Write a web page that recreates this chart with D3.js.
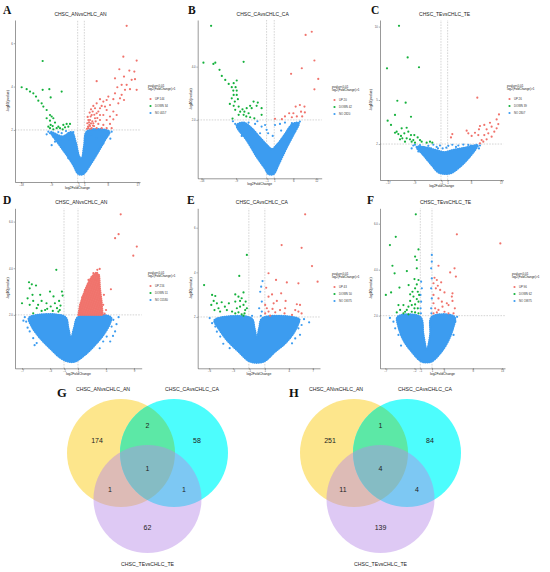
<!DOCTYPE html>
<html><head><meta charset="utf-8">
<script src="https://cdn.jsdelivr.net/npm/d3@7/dist/d3.min.js"></script>
<style>body{margin:0;background:#fff}svg{display:block}</style>
</head><body>
<script>
// ===================== DATA =====================
const legendTitle = ["pvalue<0.01", "log2(FoldChange)>1"];
const groupNames = ["UP", "DOWN", "NO"];
const panelTitles = ["CHSC_ANvsCHLC_AN","CHSC_CAvsCHLC_CA","CHSC_TEvsCHLC_TE","CHSC_ANvsCHLC_AN","CHSC_CAvsCHLC_CA","CHSC_TEvsCHLC_TE"];
const panelLetters = ["A","B","C","D","E","F"];
const countsA = [144, 34, 4057];
const countsB = [20, 42, 2820];
const countsC = [26, 39, 2807];
const countsD = [216, 51, 15580];
const countsE = [43, 50, 19375];
const countsF = [96, 62, 19875];
const xTicksA = [-18,-9,-1,1,8,17];
const xTicksB = [-18,-9,-1,1,6,12];
const xTicksC = [-17,-9,-1,1,8,17];
const xTicksD = [-7,-3,-1,1,5,9];
const xTicksE = [-6,-3,-1,1,4,7];
const xTicksF = [-7,-2,-1,1,3,8,13];
const yTicksA = [2,4,6];
const yTicksB = [2,4];
const yTicksC = [2,5,10];
const yTicksD = [2,4,6];
const yTicksE = [2,4,6];
const yTicksF = [2,4,6];

// A
const aUp = [[13.7,6.8],[12.7,5.38],[16.7,5.2],[11.5,4.8],[14.5,4.74],[16,4.69],[10.2,4.38],[4.7,4.25],[12.9,4.46],[16.2,4.34],[13.7,4.08],[14.7,3.88],[13.2,3.85],[16.7,3.85],[12.2,3.62],[11.7,3.46],[12.9,3.38],[9.7,3.42],[11.2,3.23],[8.7,3.15],[7.7,3.38],[5.7,3.42],[6.7,3.31],[4.7,3.23],[3.7,3.11],[5.7,3.0],[7.7,2.92],[9.7,2.85],[10.7,2.69],[8.7,2.62],[6.7,2.69],[4.7,2.77],[3.2,2.69],[4.2,2.54],[5.7,2.46],[7.7,2.46],[9.7,2.49],[2.7,2.46],[3.7,2.31],[5.2,2.28],[6.7,2.23],[8.7,2.28],[2.5,2.23],[3.2,2.08],[4.7,2.08],[6.2,2.08],[7.7,2.08],[9.2,2.08],[2.2,2.08],[2.7,2.18],[1.9,2.31],[3.9,2.18],[5.7,2.69],[7.2,3.08],[8.2,3.54],[10.2,3.69],[10.9,3.97],[12.2,4.08],[15.2,4.31],[2.2,2.46],[2.9,2.62],[3.5,2.85],[4.2,3.0],[5.2,2.85],[6.2,3.11],[2.1,2.15],[2.4,2.35],[3.0,2.3],[3.4,2.4],[2.8,2.05],[3.6,2.2],[4.4,2.4],[2.0,2.6],[2.6,2.8],[3.0,2.95],[4.0,2.7],[4.9,2.55],[1.8,2.05]];
const aDown = [[-11.5,5.18],[-17.8,3.97],[-16.3,3.88],[-15.3,3.77],[-14.3,3.69],[-13.5,3.54],[-11.5,3.85],[-9.5,3.88],[-5.8,3.77],[-9.1,3.5],[-12.8,3.35],[-11.3,3.08],[-10.3,2.92],[-9.3,2.69],[-8.8,2.62],[-8.3,2.54],[-9.3,2.43],[-9.1,2.23],[-8.5,2.18],[-6.8,2.15],[-5.3,2.23],[-4.3,2.28],[-3.3,2.28],[-3.8,2.15],[-9.3,2.08],[-8.3,2.03],[-6.3,2.08],[-9.8,2.15],[-7.8,2.34],[-7.3,2.08],[-5.5,2.03],[-4.8,2.12],[-10.3,2.54],[-11.8,3.23]];
const aNoHull = [[-9.0,1.9],[-6.8,1.38],[-4.3,0.85],[-2.3,0.38],[-0.8,-0.03],[0.7,-0.03],[2.7,0.38],[5.2,1.0],[7.2,1.54],[8.5,1.92],[1.9,1.95],[0.9,1.23],[0.2,0.69],[-0.5,0.77],[-1.5,1.38],[-2.8,1.9],[-5.5,1.7]];
const aNoPts = [[-9.3,1.85],[-8.3,1.69],[-7.3,1.77],[-5.8,1.85],[-4.8,1.69],[-3.8,1.85],[-3.3,1.54],[-6.3,1.54],[-7.8,1.46],[8.2,1.85],[7.7,1.69],[9.2,1.92],[6.7,1.38],[-9.8,1.92],[-2.3,1.9],[-10.3,1.8],[-8.8,1.3],[-5.3,1.2],[-3.8,0.7],[6.2,1.7],[4.7,1.6],[3.2,1.8],[8.8,1.6],[-4.5,1.95],[-6.8,1.9]];

// B
const bUp = [[9.2,5.19],[10.8,5.31],[11.5,4.23],[8.2,3.94],[5.4,3.73],[12.5,3.54],[11.5,3.15],[7.7,2.56],[6.6,2.5],[8.9,2.5],[4.9,2.25],[6.0,2.25],[8.0,2.31],[9.0,2.28],[3.8,2.13],[5.6,2.1],[6.9,2.13],[8.3,2.13],[3.0,2.03],[1.2,2.04]];
const bDown = [[-15.5,5.53],[-17.5,4.15],[-14.9,4.1],[-14.4,4.15],[-7.0,4.18],[-13.3,3.88],[-12.7,3.65],[-11.8,3.5],[-8.8,3.48],[-10.9,3.35],[-9.6,3.38],[-10.1,3.23],[-9.1,3.23],[-9.7,3.1],[-8.8,3.1],[-9.6,2.94],[-8.8,2.94],[-10.1,2.81],[-8.5,2.78],[-9.3,2.69],[-4.4,2.69],[-3.3,2.65],[-5.3,2.53],[-3.6,2.53],[-9.6,2.53],[-8.3,2.5],[-7.3,2.4],[-6.2,2.44],[-4.9,2.44],[-2.3,2.44],[-9.2,2.38],[-7.9,2.31],[-6.8,2.31],[-5.7,2.25],[-8.3,2.19],[-7.0,2.19],[-6.3,2.13],[-4.2,2.06],[-2.3,2.19],[-5.3,2.1],[-10.6,2.6],[-9.9,2.05]];
const bNoHull = [[-8.8,1.8],[-6.0,1.2],[-3.5,0.6],[-1.5,0.2],[-0.5,-0.03],[0.8,-0.03],[2.2,0.35],[4.2,0.95],[6.0,1.45],[7.4,1.88],[5.8,1.85],[3.5,1.4],[1.6,1.05],[0.4,0.9],[-0.5,1.0],[-2.5,1.3],[-5.0,1.7],[-7.0,1.9]];
const bNoPts = [[-9.2,1.85],[-8.3,1.75],[-7.0,1.81],[-5.7,1.9],[-4.0,1.85],[-2.3,1.75],[-1.4,1.81],[-1.0,1.63],[1.2,1.81],[2.5,1.85],[3.8,1.9],[5.6,1.88],[6.9,1.85],[7.7,1.94],[-6.6,1.38],[-7.9,1.56],[6.4,1.56],[4.7,1.56],[-4.9,1.56],[-2.7,1.5],[-9.8,1.95],[-3.4,1.95],[0.6,1.4],[-0.6,1.5],[2.8,1.6],[4.4,1.2],[-4.5,1.0],[-7.5,1.4]];

// C
const cUp = [[9.9,5.16],[16.4,4.02],[15.7,3.68],[13.7,3.45],[12.0,3.3],[10.7,3.23],[14.2,3.18],[15.7,3.07],[12.7,3.0],[10.4,3.0],[7.2,2.73],[6.7,2.91],[2.4,2.68],[2.0,2.45],[10.2,2.61],[12.0,2.61],[13.2,2.73],[14.2,2.5],[11.2,2.27],[12.7,2.32],[15.0,2.84],[16.2,3.36],[11.7,2.16],[10.7,2.05],[8.2,2.55],[9.2,2.77]];
const cDown = [[-13.6,10.05],[-11.0,7.9],[-7.6,7.23],[-17.2,7.16],[-14.1,4.95],[-11.6,4.82],[-14.8,3.98],[-10.0,3.86],[-17.0,3.59],[-16.0,3.3],[-12.8,3.07],[-11.3,3.11],[-14.3,2.84],[-13.8,2.68],[-13.0,2.55],[-12.0,2.73],[-10.8,2.84],[-10.0,2.61],[-12.6,2.39],[-11.3,2.39],[-10.3,2.32],[-9.3,2.27],[-11.8,2.16],[-9.8,2.16],[-8.8,2.09],[-8.0,2.45],[-7.3,2.27],[-6.8,2.16],[-5.3,2.09],[-4.3,2.16],[-3.6,2.09],[-9.0,2.61],[-13.3,2.32],[-14.8,2.77]];
const cNoHull = [[-8.3,1.8],[-6.3,1.25],[-3.8,0.57],[-1.6,0.05],[1.7,0],[4.7,0.45],[7.2,1.02],[9.2,1.59],[10.0,1.9],[6.2,1.75],[2.7,1.6],[0,1.45],[-2.8,1.6],[-5.8,1.78]];
const cNoPts = [[-8.8,1.95],[-7.3,1.93],[-6.3,1.75],[-4.8,1.88],[-3.3,1.95],[-2.3,1.8],[-1.3,1.9],[1.2,1.88],[2.4,1.95],[4.2,1.9],[5.7,1.96],[7.2,1.94],[8.7,1.8],[9.7,1.95],[10.7,1.9],[-9.3,1.9],[-0.5,1.7],[0.6,1.75],[-9.8,1.7],[-7.8,1.5],[-4.0,1.7],[3.5,1.8],[8.0,1.9],[10.4,1.7],[-1.9,1.7]];

// D
const dUp = [[7.1,6.31],[6.8,5.46],[6.3,5.29],[9.4,4.93],[8.9,4.54],[4.1,3.97],[4.0,3.71],[5.7,3.1],[3.76,3.93],[3.43,3.5],[4.6,2.43],[5.0,2.21],[1.5,2.07],[4.7,2.86],[3.2,3.79],[2.0,3.07],[1.3,2.21],[2.5,3.5],[1.6,2.75],[4.8,2.05],[3.9,3.3]];
const dUpHull = [[1.05,2.0],[1.29,2.43],[1.76,2.86],[2.33,3.29],[2.95,3.64],[3.67,3.83],[4.05,3.64],[4.14,3.14],[4.38,2.57],[4.52,2.0]];
const dDown = [[-2.1,3.93],[-6.0,3.4],[-5.6,3.31],[-5.0,3.26],[-5.9,3.14],[-7.0,2.5],[-6.2,2.71],[-5.5,2.86],[-5.4,2.6],[-4.7,2.43],[-4.2,2.6],[-3.0,3.0],[-2.5,2.79],[-2.3,2.5],[-1.7,2.6],[-1.3,3.0],[-1.2,2.83],[-3.5,2.5],[-3.7,2.21],[-3.4,2.26],[-4.2,2.17],[-5.4,2.07],[-1.8,2.14],[-1.6,2.21],[-2.9,2.36],[-4.4,2.86],[-4.9,2.29],[-5.9,2.43],[-2.0,2.29],[-1.5,2.4],[-2.6,2.17]];
const dNoHull = [[-6.0,1.88],[-5.6,1.5],[-4.4,1.0],[-3.0,0.57],[-1.57,0.17],[-0.38,0],[0.57,0],[2.0,0.29],[3.43,0.71],[4.62,1.14],[5.57,1.64],[5.7,1.9],[1.05,1.92],[0.43,1.43],[0,1.0],[-0.38,1.43],[-0.86,1.92]];
const dNoPts = [[-5.9,1.29],[-5.4,1.0],[-4.9,0.79],[-6.4,1.71],[6.05,1.79],[5.8,1.5],[5.1,1.07],[6.3,1.29],[4.6,0.86],[4.1,0.57],[5.6,0.86],[-6.6,1.9],[6.5,1.6],[-6.2,1.45],[-5.2,0.7],[6.8,1.9],[6.0,1.1],[-6.8,1.75]];

// E
const eUp = [[6.04,6.6],[3.1,5.22],[5.6,5.1],[6.9,4.28],[1.46,3.96],[2.4,3.66],[3.75,3.55],[5.2,3.51],[7.6,3.58],[1.17,3.31],[1.9,3.01],[3.04,3.06],[1.46,2.91],[3.6,2.72],[2.5,2.72],[5.0,2.57],[5.4,2.54],[1.04,2.54],[1.25,2.39],[1.96,2.36],[1.46,2.24],[2.3,2.21],[2.9,2.31],[3.54,2.39],[4.8,2.31],[5.2,2.24],[5.6,2.16],[1.04,2.16],[3.46,2.16],[1.67,2.06],[4.4,2.09],[2.1,2.61]];
const eDown = [[-1.25,4.78],[-2.2,3.84],[-6.6,3.43],[-5.6,2.99],[-5.2,2.94],[-5.4,2.72],[-5.7,2.54],[-5.0,2.61],[-4.4,2.66],[-3.5,2.61],[-2.7,3.01],[-2.3,2.91],[-1.67,3.1],[-1.9,2.84],[-5.3,2.31],[-4.8,2.39],[-3.75,2.31],[-2.7,2.69],[-2.5,2.39],[-2.1,2.46],[-1.67,2.54],[-1.46,2.31],[-2.7,2.16],[-2.3,2.21],[-1.9,2.12],[-1.54,2.16],[-3.1,2.24],[-1.25,2.39],[-4.0,2.46],[-4.6,2.24],[-2.1,2.72],[-1.4,2.69],[-1.67,2.06]];
const eNoHull = [[-5.3,1.86],[-4.79,1.49],[-3.75,0.97],[-2.29,0.45],[-0.83,0],[0.83,0],[2.29,0.45],[3.54,0.82],[4.58,1.27],[5.21,1.72],[5.3,1.9],[0.71,1.95],[0.29,1.49],[0,1.04],[-0.29,1.49],[-0.71,1.95]];
const eNoPts = [[0.71,3.61],[0.54,3.36],[0.42,3.13],[0.62,2.69],[0.29,2.39],[0.62,2.24],[6.54,1.76],[-5.2,1.57],[-4.58,1.12],[-5.0,1.34],[5.2,1.49],[4.8,1.04],[4.4,0.82],[-5.6,1.72],[5.6,1.64],[-5.9,1.95],[-4.2,0.8],[5.9,1.9],[5.4,1.2],[-3.4,0.6],[0.5,2.05],[-0.6,2.05]];

// F
const fUp = [[5.26,5.54],[12.7,5.14],[2.11,4.17],[4.86,4.06],[4.11,3.88],[5.09,3.7],[1.43,3.65],[1.83,3.55],[2.57,3.45],[1.26,3.41],[2.0,3.3],[1.66,3.19],[2.4,3.12],[3.14,3.01],[4.51,2.97],[4.4,2.83],[1.26,2.9],[2.11,2.75],[2.69,2.61],[3.54,2.54],[3.83,2.46],[4.51,2.64],[1.26,2.54],[1.54,2.32],[2.11,2.25],[3.14,2.17],[1.26,2.1],[1.83,2.14],[3.83,2.1],[4.69,2.1],[2.8,2.39],[4.91,2.32]];
const fDown = [[-1.77,6.41],[-5.2,5.43],[-6.2,5.07],[-1.31,4.88],[-1.89,4.57],[-1.6,4.42],[-5.77,4.17],[-3.3,3.94],[-5.4,3.84],[-1.6,4.06],[-2.0,3.59],[-1.31,3.55],[-4.57,3.22],[-6.0,3.01],[-6.9,2.9],[-3.0,3.33],[-1.89,3.19],[-1.43,3.04],[-2.74,2.93],[-2.17,2.83],[-1.6,2.72],[-1.31,2.61],[-4.74,2.46],[-3.89,2.46],[-3.03,2.39],[-2.46,2.46],[-1.89,2.49],[-1.43,2.32],[-4.46,2.25],[-3.31,2.25],[-2.46,2.17],[-1.89,2.14],[-1.31,2.1],[-5.03,2.14],[-3.89,2.1],[-3.03,2.06],[-2.0,2.32],[-2.74,2.64],[-1.6,3.36],[-1.2,2.9],[-2.34,3.04],[-3.6,2.17]];
const fNoHull = [[-4.9,1.95],[-4.74,1.52],[-3.89,0.94],[-2.46,0.43],[-0.74,0],[0.86,0],[2.4,0.36],[3.71,0.87],[4.51,1.38],[4.85,1.95],[0.97,1.95],[0.69,1.16],[0.11,0.51],[-0.46,1.16],[-1.03,1.95]];
const fNoPts = [[-0.95,2.32],[-0.86,2.61],[-0.97,2.9],[-0.74,3.19],[-0.86,3.48],[0.86,2.32],[0.97,2.75],[0.86,3.19],[0.97,3.62],[0.86,4.06],[0.97,4.35],[0.97,4.64],[-5.6,1.74],[-5.3,1.45],[5.0,1.74],[4.69,1.16],[-4.74,1.16],[-0.9,2.1],[0.9,2.1],[-6.2,1.9],[5.3,1.95],[-4.3,0.7]];

// Venn
const vennSets = ["CHSC_ANvsCHLC_AN","CHSC_CAvsCHLC_CA","CHSC_TEvsCHLC_TE"];
const vennRegions = ["AN","CA","TE","AN∩CA","AN∩TE","CA∩TE","AN∩CA∩TE"];
const vennG = [174, 58, 62, 2, 1, 1, 1];
const vennH = [251, 84, 139, 1, 11, 4, 4];

// ===================== LAYOUT / STYLE =====================
const COL = {up:"#F0736C", down:"#14B13C", no:"#3C9CF0"};
const panels = [
  {up:aUp, down:aDown, hull:aNoHull, no:aNoPts, counts:countsA, xt:xTicksA, yt:yTicksA, xd:[-19.8,17.7], xr:[15,140], yd:[-0.4,7.07], yr:[182,20], leg:[148,87], letter:[3,14], ylab:9},
  {up:bUp, down:bDown, hull:bNoHull, no:bNoPts, counts:countsB, xt:xTicksB, yt:yTicksB, xd:[-19,13.4], xr:[197.7,321.7], yd:[-0.19,5.75], yr:[178.3,20], leg:[332,88], letter:[188,14], ylab:192},
  {up:cUp, down:cDown, hull:cNoHull, no:cNoPts, counts:countsC, xt:xTicksC, yt:yTicksC, xd:[-19.3,17.7], xr:[380,503.3], yd:[-0.45,10.45], yr:[180,20], leg:[507,87], letter:[371,14], ylab:372},
  {up:dUp, upHull:dUpHull, down:dDown, hull:dNoHull, no:dNoPts, counts:countsD, xt:xTicksD, yt:yTicksD, xd:[-8,10.1], xr:[15,141.7], yd:[-0.29,6.57], yr:[368.3,208.3], leg:[148,274], letter:[3,204], ylab:9},
  {up:eUp, down:eDown, hull:eNoHull, no:eNoPts, counts:countsE, xt:xTicksE, yt:yTicksE, xd:[-7.4,7.9], xr:[197.7,320], yd:[-0.3,6.87], yr:[368.3,208.3], leg:[332,275], letter:[187,204], ylab:192},
  {up:fUp, down:fDown, hull:fNoHull, no:fNoPts, counts:countsF, xt:xTicksF, yt:yTicksF, xd:[-7.9,13.5], xr:[380,505], yd:[-0.29,6.67], yr:[368.3,208.3], leg:[512,275], letter:[367,204], ylab:372}
];

const svg = d3.select("body").append("svg").attr("width",550).attr("height",572)
  .style("font-family","'Liberation Sans', Arial, sans-serif");
const defs = svg.append("defs");
function dotPattern(id, col){
  const p = defs.append("pattern").attr("id",id).attr("patternUnits","userSpaceOnUse").attr("width",2.2).attr("height",2.2)
    .attr("patternTransform","rotate(20)");
  p.append("rect").attr("width",2.2).attr("height",2.2).attr("fill","#fbe3e1");
  [[0.55,0.55],[1.65,1.65],[1.65,0.55],[0.55,1.65]].forEach(c=>p.append("circle").attr("cx",c[0]).attr("cy",c[1]).attr("r",0.85).attr("fill",col));
}
dotPattern("dotsUp", COL.up);

panels.forEach((p,i)=>{
  const g = svg.append("g");
  const x = d3.scaleLinear().domain(p.xd).range(p.xr);
  const y = d3.scaleLinear().domain(p.yd).range(p.yr);
  const [x0,x1] = p.xr, [y0,y1] = p.yr;
  const dash = g.append("g").attr("stroke","#a0a0a0").attr("stroke-width",0.45).attr("stroke-dasharray","1.6,1.2");
  [-1,1].forEach(v=>dash.append("line").attr("x1",x(v)).attr("x2",x(v)).attr("y1",y0).attr("y2",y1));
  dash.append("line").attr("x1",x0).attr("x2",x1).attr("y1",y(2)).attr("y2",y(2));
  const line = d3.line().x(d=>x(d[0])).y(d=>y(d[1])).curve(d3.curveCatmullRomClosed.alpha(0.5));
  g.append("path").attr("d",line(p.hull)).attr("fill",COL.no).attr("stroke",COL.no).attr("stroke-width",0.8);
  g.append("path").attr("d",line(p.hull)).attr("fill","none").attr("stroke",COL.no)
    .attr("stroke-width",2.3).attr("stroke-linecap","round").attr("stroke-dasharray","0.01,2.1");
  g.selectAll(".no").data(p.no).join("circle").attr("cx",d=>x(d[0])).attr("cy",d=>y(d[1])).attr("r",1.1).attr("fill",COL.no);
  if (p.upHull){
    const lin = d3.line().x(d=>x(d[0])).y(d=>y(d[1])).curve(d3.curveLinearClosed);
    g.append("path").attr("d",lin(p.upHull)).attr("fill","url(#dotsUp)");
    g.append("path").attr("d",lin(p.upHull)).attr("fill","none").attr("stroke",COL.up)
      .attr("stroke-width",2.2).attr("stroke-linecap","round").attr("stroke-dasharray","0.01,2.0");
  }
  g.selectAll(".dn").data(p.down).join("circle").attr("cx",d=>x(d[0])).attr("cy",d=>y(d[1])).attr("r",1.1).attr("fill",COL.down);
  g.selectAll(".up").data(p.up).join("circle").attr("cx",d=>x(d[0])).attr("cy",d=>y(d[1])).attr("r",1.1).attr("fill",COL.up);
  const ax = g.append("g").attr("transform",`translate(0,${y0})`)
    .call(d3.axisBottom(x).tickValues(p.xt).tickSize(1.3).tickSizeOuter(0).tickPadding(0.8));
  const ay = g.append("g").attr("transform",`translate(${x0},0)`)
    .call(d3.axisLeft(y).tickValues(p.yt).tickSize(1.3).tickSizeOuter(0).tickPadding(0.8));
  [ax,ay].forEach(a=>{
    a.select(".domain").attr("stroke","#333").attr("stroke-width",0.5);
    a.selectAll(".tick line").attr("stroke","#333").attr("stroke-width",0.4);
    a.selectAll(".tick text").attr("font-size",2.8).attr("fill","#555").attr("font-family","'Liberation Sans', Arial, sans-serif");
  });
  g.append("text").attr("x",(x0+x1)/2).attr("y",y0+6.8).attr("text-anchor","middle").attr("font-size",3.4).attr("fill","#222").text("log2FoldChange");
  g.append("text").attr("transform",`translate(${p.ylab},${(y0+y1)/2}) rotate(-90)`).attr("text-anchor","middle").attr("font-size",3.4).attr("fill","#222").text("-log10(pvalue)");
  g.append("text").attr("x",(x0+x1)/2 + 3).attr("y",y1-4).attr("text-anchor","middle").attr("font-size",5).attr("fill","#222").text(panelTitles[i]);
  g.append("text").attr("x",p.letter[0]).attr("y",p.letter[1]).attr("font-family","'Liberation Serif','Times New Roman',serif")
    .attr("font-weight","bold").attr("font-size",11.5).attr("fill","#111").text(panelLetters[i]);
  const lg = g.append("g").attr("transform",`translate(${p.leg[0]},${p.leg[1]})`);
  legendTitle.forEach((t,k)=>lg.append("text").attr("x",0).attr("y",k*3.4).attr("font-size",3).attr("fill","#222").text(t));
  const cols = [COL.up, COL.down, COL.no];
  groupNames.forEach((nm,k)=>{
    const yy = 12 + k*7;
    lg.append("circle").attr("cx",2.5).attr("cy",yy).attr("r",1.1).attr("fill",cols[k]);
    lg.append("text").attr("x",7).attr("y",yy+1).attr("font-size",2.8).attr("fill","#333").text(nm+" "+p.counts[k]);
  });
});

// ===================== VENN =====================
const vennLayout = [
  {vals:vennG, letter:"G", lx:57, cx:147.5},
  {vals:vennH, letter:"H", lx:289, cx:380.5}
];
const R = 54, cyTop = 453, cyBot = 499, half = 26.5;
const regionOff = [[-50.5,-28],[49.5,-28],[0,59],[0,-43],[-37.5,21],[36.5,21],[0,0]];
const labelOff = [[-44.5,-79],[44.5,-79],[0,96]];
vennLayout.forEach((v,vi)=>{
  const g = svg.append("g");
  const cA = [v.cx-half, cyTop], cC = [v.cx+half, cyTop], cT = [v.cx, cyBot];
  const id = "clipC"+vi;
  defs.append("clipPath").attr("id",id).append("circle").attr("cx",cC[0]).attr("cy",cC[1]).attr("r",R);
  g.append("circle").attr("cx",cA[0]).attr("cy",cA[1]).attr("r",R).attr("fill","#FDE68C");
  g.append("circle").attr("cx",cC[0]).attr("cy",cC[1]).attr("r",R).attr("fill","#4DFDFD");
  g.append("circle").attr("cx",cA[0]).attr("cy",cA[1]).attr("r",R).attr("fill","#5CE8A6").attr("clip-path",`url(#${id})`);
  g.append("circle").attr("cx",cT[0]).attr("cy",cT[1]).attr("r",R).attr("fill","#B689E8").attr("fill-opacity",0.46);
  const cy0 = (cyTop*2+cyBot)/3;
  v.vals.forEach((n,k)=>{
    g.append("text").attr("x",v.cx+regionOff[k][0]).attr("y",cy0+regionOff[k][1]).attr("text-anchor","middle")
      .attr("dominant-baseline","central").attr("font-size",7).attr("fill","#222").text(n);
  });
  vennSets.forEach((s,k)=>{
    g.append("text").attr("x",v.cx+labelOff[k][0]).attr("y",cy0+labelOff[k][1]).attr("text-anchor","middle")
      .attr("dominant-baseline","central").attr("font-size",5.2).attr("fill","#222").text(s);
  });
  g.append("text").attr("x",v.lx).attr("y",397).attr("font-family","'Liberation Serif','Times New Roman',serif")
    .attr("font-weight","bold").attr("font-size",12.5).attr("fill","#111").text(v.letter);
});
</script>
</body></html>
